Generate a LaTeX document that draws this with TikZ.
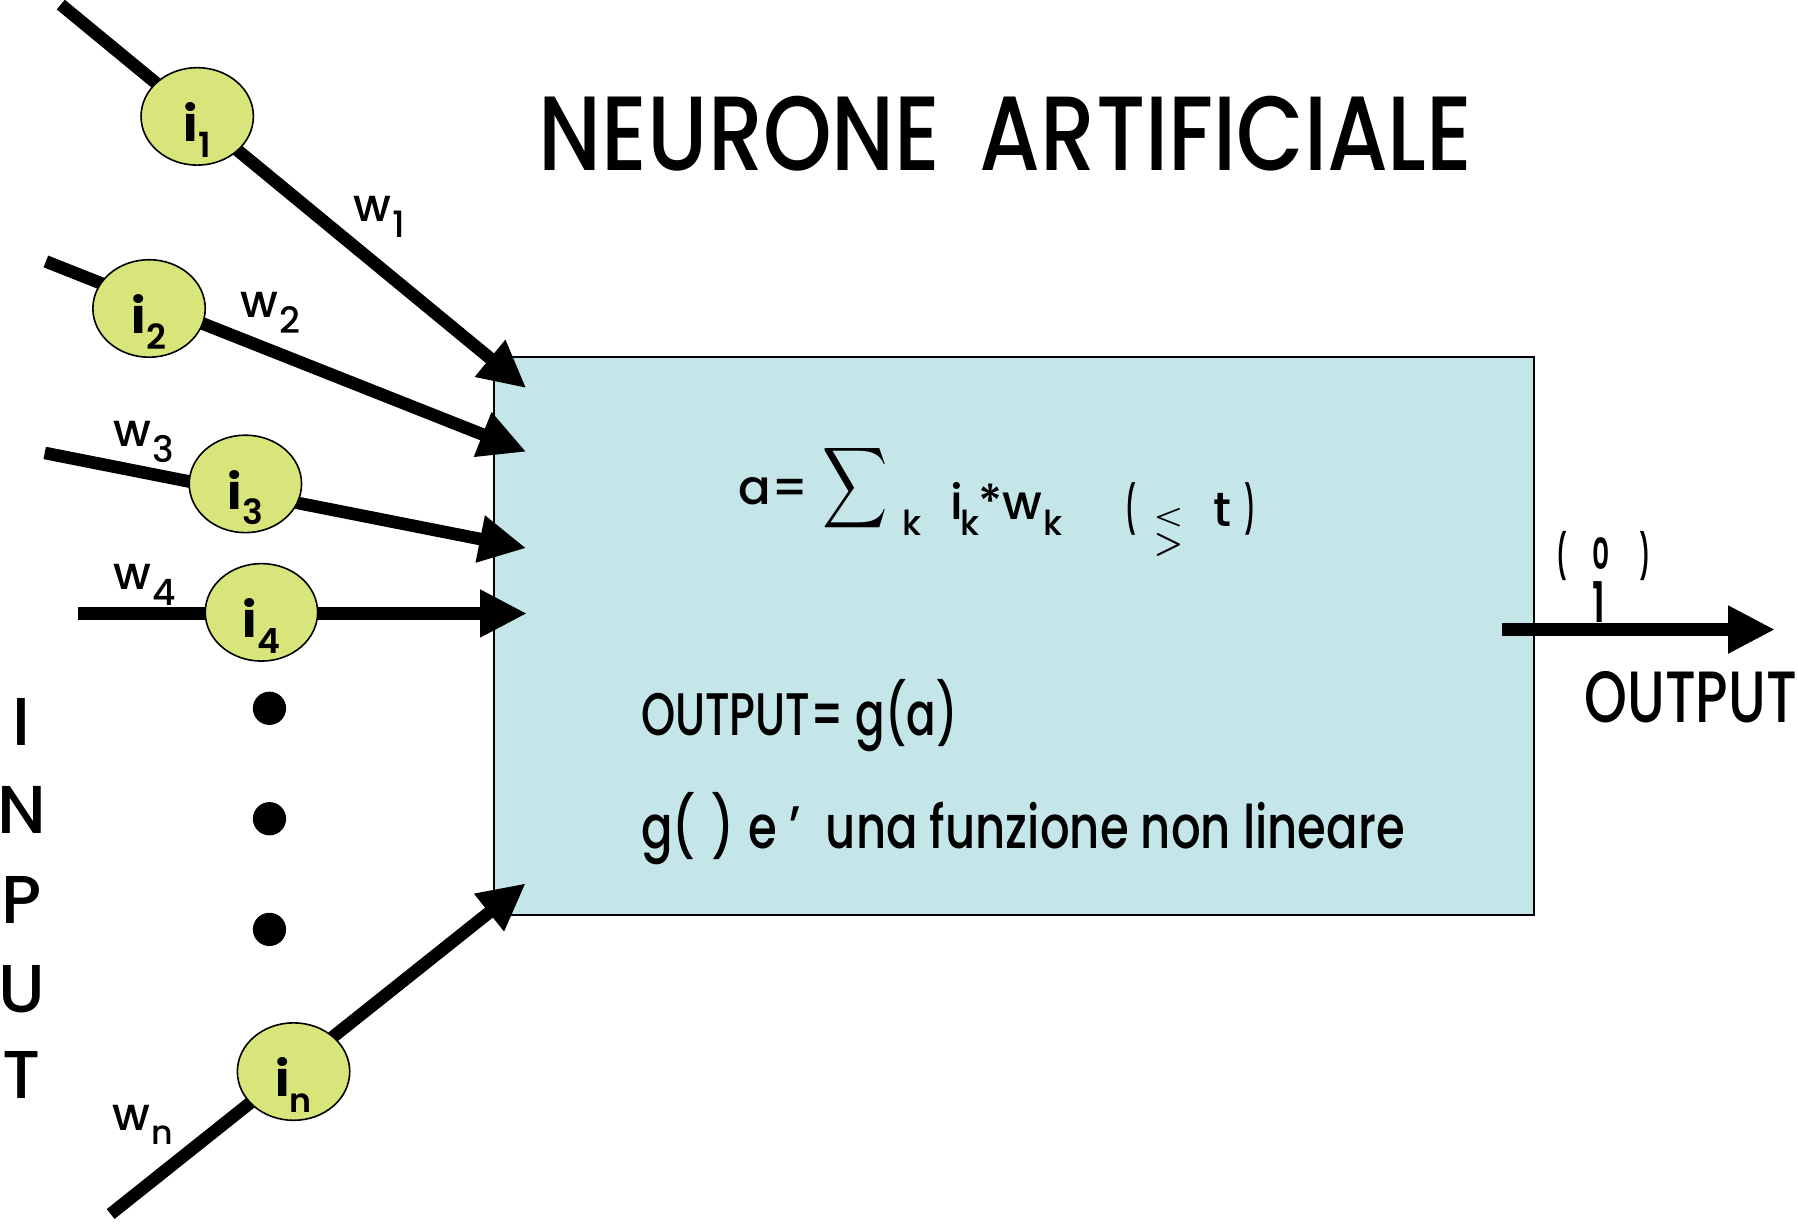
\documentclass[tikz,border=0pt]{standalone}
\usepackage{fontspec}
\usepackage{graphicx}
\setmainfont{Poppins}[UprightFont={* Medium},BoldFont={* Bold}]
\newfontfamily\psemi{Poppins SemiBold}
\usetikzlibrary{shapes.geometric,arrows.meta}
\definecolor{boxfill}{RGB}{197,230,233}
\definecolor{cellfill}{RGB}{216,229,122}
\newlength\capht
\newcommand\capfit[3]{\resizebox{#1}{#2}{\settoheight{\capht}{H}\raisebox{0pt}[\capht][0pt]{#3}}}
\newcommand\xfit[2]{\resizebox{!}{#1}{\settoheight{\capht}{x}\raisebox{0pt}[\capht][0pt]{#2}}}
\newcommand\ilab[1]{\resizebox{!}{17pt}{\bfseries i}\raisebox{-6.8pt}{\capfit{!}{10.5pt}{\psemi #1}}}
\newcommand\wlab[1]{\xfit{11pt}{w}\hspace{0.5pt}\raisebox{-6.8pt}{\capfit{!}{11pt}{#1}}}
\begin{document}
\begin{tikzpicture}[x=0.5pt,y=-0.5pt,
  txt/.style={inner sep=0pt,outer sep=0pt},
  fml/.style={txt,font=\fontsize{21pt}{25pt}\selectfont},
  fsub/.style={txt,font=\fontsize{15pt}{18pt}\selectfont},
  unitbox/.style={draw=black,line width=0.7pt,fill=boxfill,inner sep=0pt},
  cell/.style={ellipse,draw=black,line width=0.7pt,fill=cellfill,minimum width=49pt,minimum height=42.5pt,inner sep=0pt},
  arrowwire/.style={line width=5.5pt,-{Triangle[length=20.5pt,width=19.5pt]}},
  dotnode/.style={circle,fill=black,minimum size=14.5pt,inner sep=0pt}]
\useasboundingbox (0,0) rectangle (1568,1072);

% main box
\node[unitbox,anchor=north west,minimum width=453.5pt,minimum height=243.25pt] (box) at (430,310.5) {};

% line end points
\coordinate (s1) at (53,4);     \coordinate (t1) at (459,338.5);
\coordinate (s2) at (40,228);   \coordinate (t2) at (459,394);
\coordinate (s3) at (39,395);   \coordinate (t3) at (459,478);
\coordinate (s4) at (68,535);   \coordinate (t4) at (459.6,535);
\coordinate (sn) at (96.5,1058.7); \coordinate (tn) at (458.5,770.3);
\coordinate (os) at (1310,549); \coordinate (ot) at (1548,549);

\draw[arrowwire] (s1) -- (t1);
\draw[arrowwire] (s2) -- (t2);
\draw[arrowwire] (s3) -- (t3);
\draw[arrowwire] (s4) -- (t4);
\draw[arrowwire] (sn) -- (tn);

% input cells
\node[cell] (i1) at (172,101.5) {};
\node[cell] (i2) at (130,269) {};
\node[cell] (i3) at (214,422) {};
\node[cell] (i4) at (228,534) {};
\node[cell] (in) at (256,934.5) {};
\node[txt,anchor=base] (i1l) at ([yshift=-11pt]i1.center) {\ilab{1}};
\node[txt,anchor=base] (i2l) at ([yshift=-11pt]i2.center) {\ilab{2}};
\node[txt,anchor=base] (i3l) at ([yshift=-11pt]i3.center) {\ilab{3}};
\node[txt,anchor=base] (i4l) at ([yshift=-11pt]i4.center) {\ilab{4}};
\node[txt,anchor=base] (inl) at ([yshift=-11pt]in.center) {\resizebox{!}{17pt}{\bfseries i}\raisebox{-6.8pt}{\xfit{8pt}{\psemi n}}};

% weights
\node[txt,anchor=base west] (w1) at (308,193.4) {\wlab{1}};
\node[txt,anchor=base west] (w2) at (210,277) {\wlab{2}};
\node[txt,anchor=base west] (w3) at (99,389.5) {\wlab{3}};
\node[txt,anchor=base west] (w4) at (99,514.5) {\wlab{4}};
\node[txt,anchor=base west] (wn) at (98,985.5) {\xfit{11pt}{w}\hspace{0.5pt}\raisebox{-6.5pt}{\xfit{8pt}{n}}};

% dots
\node[dotnode] (d1) at (235,617.7) {};
\node[dotnode] (d2) at (235,714) {};
\node[dotnode] (d3) at (235,810.5) {};

% INPUT vertical
\node[txt,anchor=base] (inI) at (19,650) {\capfit{!}{20.5pt}{I}};
\node[txt,anchor=base] (inN) at (19,727) {\capfit{!}{20.5pt}{N}};
\node[txt,anchor=base] (inP) at (19,805) {\capfit{!}{20.5pt}{P}};
\node[txt,anchor=base] (inU) at (19,883) {\capfit{!}{20.5pt}{U}};
\node[txt,anchor=base] (inT) at (19,958) {\capfit{!}{20.5pt}{T}};

% title
\node[txt,anchor=base west] (title) at (470,149) {\capfit{407pt}{32pt}{NEURONE\hspace{0.45em}ARTIFICIALE}};

% formula
\node[fml,anchor=base west] (fa) at (644,440) {a=};
\node[txt] (sig) at (745.5,425.5) {\resizebox*{28.5pt}{39.5pt}{$\displaystyle\sum$}};
\node[fsub,anchor=base west] (k1) at (787,467) {k};
\node[fml,anchor=base west] (fi) at (829,453) {i};
\node[fsub,anchor=base west] (k2) at (838,467) {k};
\node[fml,anchor=base west] (fw) at (853,453) {*w};
\node[fsub,anchor=base west] (k3) at (910,467) {k};
\node[txt] (lp) at (986,444) {\resizebox*{4pt}{23pt}{\bfseries (}};
\node[txt] (lt) at (1019,451) {\resizebox*{13pt}{8pt}{\boldmath$<$}};
\node[txt] (gt) at (1019,475.5) {\resizebox*{13pt}{10pt}{\boldmath$>$}};
\node[fml,anchor=base west] (ft) at (1058,459) {t};
\node[txt] (rp) at (1090,444) {\resizebox*{4pt}{23pt}{\bfseries )}};

% text lines
\node[txt,anchor=base west] (eq2) at (559,641) {\capfit{138pt}{18.2pt}{OUTPUT= g(a)}};
\node[txt,anchor=base west] (eq3) at (559,740) {\capfit{333pt}{18.2pt}{g(\hspace{0.35em})\hspace{0.3em}e\hspace{0.25em}’\hspace{0.55em}una funzione non lineare}};

% output value
\node[txt] (op) at (1362,485.3) {\resizebox*{4pt}{21.5pt}{\bfseries (}};
\node[txt,anchor=base] (o0) at (1396,497) {\capfit{7.5pt}{13pt}{\psemi 0}};
\node[txt] (cp) at (1435,485.3) {\resizebox*{4pt}{21.5pt}{\bfseries )}};
\node[txt,anchor=base] (o1) at (1394.5,543) {\capfit{5.5pt}{17pt}{\psemi 1}};

\draw[arrowwire] (os) -- (ot);
\node[txt,anchor=base west] (outlab) at (1382,630) {\capfit{92.5pt}{22pt}{OUTPUT}};
\end{tikzpicture}
\end{document}
